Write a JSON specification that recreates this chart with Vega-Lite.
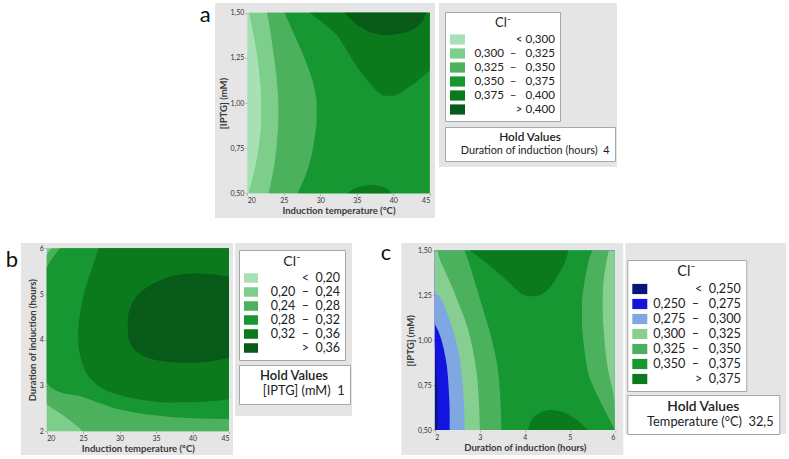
{
  "$schema": "https://vega.github.io/schema/vega-lite/v6.json",
  "background": "white",
  "padding": {"left": 5, "top": 3, "right": 0, "bottom": 0},
  "config": {
    "font": "Lato",
    "view": {"stroke": null},
    "axis": {
      "grid": false, "domain": false, "ticks": true, "tickSize": 2, "tickColor": "#888", "tickWidth": 0.6,
      "labelFontSize": 7, "labelColor": "#333", "labelPadding": 1.5,
      "titleFontSize": 9.5, "titleFontWeight": "bold", "titleColor": "#3a3a3a", "titlePadding": 2
    },
    "legend": {
      "fillColor": "white", "strokeColor": "#a6a6a6", "padding": 5, "cornerRadius": 0,
      "labelColor": "#222", "titleColor": "#222", "titleFontWeight": "normal", "titleAnchor": "middle",
      "symbolStrokeWidth": 0, "symbolOpacity": 1, "rowPadding": 0, "titlePadding": 2,
      "labelLimit": 400, "titleLimit": 400
    }
  },
  "datasets": {
    "letters": [{"p":"a","t":"a"},{"p":"b","t":"b"},{"p":"c","t":"c"}],
    "cont": [
      {"p":"a","l":0,"y":0.5,"x":20,"x2":45},{"p":"a","l":0,"y":1.5,"x":20,"x2":45},
      {"p":"a","l":1,"y":0.5,"x":20.15,"x2":45},{"p":"a","l":1,"y":0.6,"x":20.8,"x2":45},{"p":"a","l":1,"y":0.7,"x":21.35,"x2":45},{"p":"a","l":1,"y":0.8,"x":21.7,"x2":45},{"p":"a","l":1,"y":0.9,"x":21.9,"x2":45},{"p":"a","l":1,"y":1.0,"x":21.9,"x2":45},{"p":"a","l":1,"y":1.1,"x":21.8,"x2":45},{"p":"a","l":1,"y":1.2,"x":21.55,"x2":45},{"p":"a","l":1,"y":1.3,"x":21.2,"x2":45},{"p":"a","l":1,"y":1.4,"x":20.75,"x2":45},{"p":"a","l":1,"y":1.5,"x":20.25,"x2":45},
      {"p":"a","l":2,"y":0.5,"x":22.9,"x2":45},{"p":"a","l":2,"y":0.6,"x":23.45,"x2":45},{"p":"a","l":2,"y":0.7,"x":23.85,"x2":45},{"p":"a","l":2,"y":0.8,"x":24.1,"x2":45},{"p":"a","l":2,"y":0.9,"x":24.25,"x2":45},{"p":"a","l":2,"y":1.0,"x":24.25,"x2":45},{"p":"a","l":2,"y":1.1,"x":24.1,"x2":45},{"p":"a","l":2,"y":1.2,"x":23.85,"x2":45},{"p":"a","l":2,"y":1.3,"x":23.5,"x2":45},{"p":"a","l":2,"y":1.4,"x":23.15,"x2":45},{"p":"a","l":2,"y":1.5,"x":22.7,"x2":45},
      {"p":"a","l":3,"y":0.5,"x":26.9,"x2":45},{"p":"a","l":3,"y":0.6,"x":28.0,"x2":45},{"p":"a","l":3,"y":0.7,"x":28.75,"x2":45},{"p":"a","l":3,"y":0.8,"x":29.2,"x2":45},{"p":"a","l":3,"y":0.9,"x":29.5,"x2":45},{"p":"a","l":3,"y":1.0,"x":29.5,"x2":45},{"p":"a","l":3,"y":1.1,"x":29.1,"x2":45},{"p":"a","l":3,"y":1.2,"x":28.3,"x2":45},{"p":"a","l":3,"y":1.3,"x":27.3,"x2":45},{"p":"a","l":3,"y":1.4,"x":26.2,"x2":45},{"p":"a","l":3,"y":1.5,"x":25.1,"x2":45},
      {"p":"a","l":4,"part":"top","x":28.55,"y":1.5,"y2":1.5},{"p":"a","l":4,"part":"top","x":30,"y":1.455,"y2":1.5},{"p":"a","l":4,"part":"top","x":31.5,"y":1.405,"y2":1.5},{"p":"a","l":4,"part":"top","x":32.4,"y":1.37,"y2":1.5},{"p":"a","l":4,"part":"top","x":33.5,"y":1.3,"y2":1.5},{"p":"a","l":4,"part":"top","x":34.7,"y":1.22,"y2":1.5},{"p":"a","l":4,"part":"top","x":36,"y":1.15,"y2":1.5},{"p":"a","l":4,"part":"top","x":37,"y":1.1,"y2":1.5},{"p":"a","l":4,"part":"top","x":38,"y":1.06,"y2":1.5},{"p":"a","l":4,"part":"top","x":38.8,"y":1.04,"y2":1.5},{"p":"a","l":4,"part":"top","x":39.8,"y":1.04,"y2":1.5},{"p":"a","l":4,"part":"top","x":40.7,"y":1.05,"y2":1.5},{"p":"a","l":4,"part":"top","x":42,"y":1.085,"y2":1.5},{"p":"a","l":4,"part":"top","x":43,"y":1.11,"y2":1.5},{"p":"a","l":4,"part":"top","x":44,"y":1.145,"y2":1.5},{"p":"a","l":4,"part":"top","x":45,"y":1.18,"y2":1.5},
      {"p":"a","l":4,"part":"bot","x":33.8,"y":0.5,"y2":0.5},{"p":"a","l":4,"part":"bot","x":34.7,"y":0.5,"y2":0.526},{"p":"a","l":4,"part":"bot","x":35.5,"y":0.5,"y2":0.537},{"p":"a","l":4,"part":"bot","x":36.1,"y":0.5,"y2":0.542},{"p":"a","l":4,"part":"bot","x":37,"y":0.5,"y2":0.546},{"p":"a","l":4,"part":"bot","x":37.8,"y":0.5,"y2":0.543},{"p":"a","l":4,"part":"bot","x":38.4,"y":0.5,"y2":0.537},{"p":"a","l":4,"part":"bot","x":39.3,"y":0.5,"y2":0.52},{"p":"a","l":4,"part":"bot","x":39.75,"y":0.5,"y2":0.5},
      {"p":"a","l":5,"x":33.35,"y":1.5,"y2":1.5},{"p":"a","l":5,"x":34,"y":1.47,"y2":1.5},{"p":"a","l":5,"x":34.7,"y":1.445,"y2":1.5},{"p":"a","l":5,"x":36,"y":1.41,"y2":1.5},{"p":"a","l":5,"x":37,"y":1.39,"y2":1.5},{"p":"a","l":5,"x":38,"y":1.38,"y2":1.5},{"p":"a","l":5,"x":38.8,"y":1.375,"y2":1.5},{"p":"a","l":5,"x":40,"y":1.378,"y2":1.5},{"p":"a","l":5,"x":41.6,"y":1.39,"y2":1.5},{"p":"a","l":5,"x":42.8,"y":1.41,"y2":1.5},{"p":"a","l":5,"x":43.6,"y":1.435,"y2":1.5},{"p":"a","l":5,"x":44.1,"y":1.46,"y2":1.5},{"p":"a","l":5,"x":44.5,"y":1.5,"y2":1.5},

      {"p":"b","l":1,"y":2,"x":20,"x2":45},{"p":"b","l":1,"y":6,"x":20,"x2":45},
      {"p":"b","l":2,"x":20,"y":2.59,"y2":5.85},{"p":"b","l":2,"x":20.8,"y":2.5,"y2":6},{"p":"b","l":2,"x":22,"y":2.38,"y2":6},{"p":"b","l":2,"x":23.5,"y":2.2,"y2":6},{"p":"b","l":2,"x":24.3,"y":2.1,"y2":6},{"p":"b","l":2,"x":25,"y":2.0,"y2":6},{"p":"b","l":2,"x":45,"y":2.0,"y2":6},
      {"p":"b","l":3,"x":20,"y":3.06,"y2":5.58},{"p":"b","l":3,"x":20.5,"y":2.97,"y2":5.72},{"p":"b","l":3,"x":21.2,"y":2.9,"y2":5.87},{"p":"b","l":3,"x":21.96,"y":2.85,"y2":6},{"p":"b","l":3,"x":24.5,"y":2.77,"y2":6},{"p":"b","l":3,"x":27,"y":2.63,"y2":6},{"p":"b","l":3,"x":29,"y":2.52,"y2":6},{"p":"b","l":3,"x":31.5,"y":2.43,"y2":6},{"p":"b","l":3,"x":33.6,"y":2.37,"y2":6},{"p":"b","l":3,"x":36,"y":2.33,"y2":6},{"p":"b","l":3,"x":38.2,"y":2.3,"y2":6},{"p":"b","l":3,"x":41,"y":2.28,"y2":6},{"p":"b","l":3,"x":45,"y":2.27,"y2":6},
      {"p":"b","l":4,"x":24.3,"y":4.1,"y2":4.1},{"p":"b","l":4,"x":24.35,"y":3.9,"y2":4.3},{"p":"b","l":4,"x":24.5,"y":3.72,"y2":4.5},{"p":"b","l":4,"x":24.8,"y":3.52,"y2":4.78},{"p":"b","l":4,"x":25.3,"y":3.32,"y2":5.12},{"p":"b","l":4,"x":26.2,"y":3.12,"y2":5.55},{"p":"b","l":4,"x":26.8,"y":3.03,"y2":5.85},{"p":"b","l":4,"x":27.2,"y":2.98,"y2":6},{"p":"b","l":4,"x":29,"y":2.84,"y2":6},{"p":"b","l":4,"x":31,"y":2.75,"y2":6},{"p":"b","l":4,"x":34,"y":2.67,"y2":6},{"p":"b","l":4,"x":37,"y":2.63,"y2":6},{"p":"b","l":4,"x":41,"y":2.64,"y2":6},{"p":"b","l":4,"x":45,"y":2.7,"y2":6},
      {"p":"b","l":5,"x":31.1,"y":4.3,"y2":4.3},{"p":"b","l":5,"x":31.2,"y":4.05,"y2":4.55},{"p":"b","l":5,"x":31.6,"y":3.88,"y2":4.75},{"p":"b","l":5,"x":32.5,"y":3.72,"y2":4.98},{"p":"b","l":5,"x":34,"y":3.6,"y2":5.17},{"p":"b","l":5,"x":36,"y":3.53,"y2":5.33},{"p":"b","l":5,"x":38,"y":3.5,"y2":5.42},{"p":"b","l":5,"x":40,"y":3.5,"y2":5.45},{"p":"b","l":5,"x":42,"y":3.52,"y2":5.44},{"p":"b","l":5,"x":45,"y":3.6,"y2":5.38},

      {"p":"c","l":0,"y":0.5,"x":2,"x2":6},{"p":"c","l":0,"y":1.5,"x":2,"x2":6},
      {"p":"c","l":1,"y":0.5,"x":2.06,"x2":6},{"p":"c","l":1,"y":0.6,"x":2.06,"x2":6},{"p":"c","l":1,"y":0.7,"x":2.055,"x2":6},{"p":"c","l":1,"y":0.8,"x":2.04,"x2":6},{"p":"c","l":1,"y":0.9,"x":2.02,"x2":6},{"p":"c","l":1,"y":0.97,"x":2.0,"x2":6},{"p":"c","l":1,"y":1.5,"x":2.0,"x2":6},
      {"p":"c","l":2,"y":0.5,"x":2.33,"x2":6},{"p":"c","l":2,"y":0.6,"x":2.33,"x2":6},{"p":"c","l":2,"y":0.7,"x":2.315,"x2":6},{"p":"c","l":2,"y":0.8,"x":2.29,"x2":6},{"p":"c","l":2,"y":0.87,"x":2.26,"x2":6},{"p":"c","l":2,"y":0.95,"x":2.2,"x2":6},{"p":"c","l":2,"y":1.0,"x":2.15,"x2":6},{"p":"c","l":2,"y":1.05,"x":2.08,"x2":6},{"p":"c","l":2,"y":1.1,"x":2.0,"x2":6},{"p":"c","l":2,"y":1.5,"x":2.0,"x2":6},
      {"p":"c","l":3,"y":0.5,"x":2.665,"x2":6},{"p":"c","l":3,"y":0.6,"x":2.655,"x2":6},{"p":"c","l":3,"y":0.7,"x":2.635,"x2":6},{"p":"c","l":3,"y":0.8,"x":2.6,"x2":6},{"p":"c","l":3,"y":0.9,"x":2.55,"x2":6},{"p":"c","l":3,"y":1.0,"x":2.47,"x2":6},{"p":"c","l":3,"y":1.1,"x":2.35,"x2":6},{"p":"c","l":3,"y":1.184,"x":2.22,"x2":6},{"p":"c","l":3,"y":1.24,"x":2.12,"x2":6},{"p":"c","l":3,"y":1.277,"x":2.0,"x2":6},{"p":"c","l":3,"y":1.5,"x":2.0,"x2":6},
      {"p":"c","l":4,"y":0.5,"x":3.0,"x2":6},{"p":"c","l":4,"y":0.6,"x":2.99,"x2":6},{"p":"c","l":4,"y":0.7,"x":2.97,"x2":5.97},{"p":"c","l":4,"y":0.8,"x":2.94,"x2":5.88},{"p":"c","l":4,"y":0.9,"x":2.88,"x2":5.81},{"p":"c","l":4,"y":1.0,"x":2.8,"x2":5.77},{"p":"c","l":4,"y":1.1,"x":2.69,"x2":5.74},{"p":"c","l":4,"y":1.2,"x":2.54,"x2":5.73},{"p":"c","l":4,"y":1.3,"x":2.38,"x2":5.74},{"p":"c","l":4,"y":1.4,"x":2.2,"x2":5.79},{"p":"c","l":4,"y":1.46,"x":2.1,"x2":5.83},{"p":"c","l":4,"y":1.5,"x":2.06,"x2":5.87},
      {"p":"c","l":5,"y":0.5,"x":3.48,"x2":6},{"p":"c","l":5,"y":0.6,"x":3.47,"x2":5.8},{"p":"c","l":5,"y":0.7,"x":3.45,"x2":5.6},{"p":"c","l":5,"y":0.8,"x":3.42,"x2":5.43},{"p":"c","l":5,"y":0.9,"x":3.36,"x2":5.35},{"p":"c","l":5,"y":1.0,"x":3.27,"x2":5.3},{"p":"c","l":5,"y":1.1,"x":3.16,"x2":5.27},{"p":"c","l":5,"y":1.2,"x":3.04,"x2":5.27},{"p":"c","l":5,"y":1.3,"x":2.92,"x2":5.31},{"p":"c","l":5,"y":1.4,"x":2.8,"x2":5.38},{"p":"c","l":5,"y":1.46,"x":2.72,"x2":5.44},{"p":"c","l":5,"y":1.5,"x":2.66,"x2":5.5},
      {"p":"c","l":6,"part":"top","x":2.78,"y":1.5,"y2":1.5},{"p":"c","l":6,"part":"top","x":3.0,"y":1.46,"y2":1.5},{"p":"c","l":6,"part":"top","x":3.2,"y":1.42,"y2":1.5},{"p":"c","l":6,"part":"top","x":3.44,"y":1.37,"y2":1.5},{"p":"c","l":6,"part":"top","x":3.7,"y":1.31,"y2":1.5},{"p":"c","l":6,"part":"top","x":3.9,"y":1.265,"y2":1.5},{"p":"c","l":6,"part":"top","x":4.1,"y":1.245,"y2":1.5},{"p":"c","l":6,"part":"top","x":4.3,"y":1.25,"y2":1.5},{"p":"c","l":6,"part":"top","x":4.5,"y":1.28,"y2":1.5},{"p":"c","l":6,"part":"top","x":4.65,"y":1.325,"y2":1.5},{"p":"c","l":6,"part":"top","x":4.8,"y":1.39,"y2":1.5},{"p":"c","l":6,"part":"top","x":4.9,"y":1.44,"y2":1.5},{"p":"c","l":6,"part":"top","x":4.97,"y":1.5,"y2":1.5},
      {"p":"c","l":6,"part":"bot","x":4.06,"y":0.5,"y2":0.5},{"p":"c","l":6,"part":"bot","x":4.15,"y":0.5,"y2":0.555},{"p":"c","l":6,"part":"bot","x":4.3,"y":0.5,"y2":0.59},{"p":"c","l":6,"part":"bot","x":4.58,"y":0.5,"y2":0.612},{"p":"c","l":6,"part":"bot","x":4.85,"y":0.5,"y2":0.6},{"p":"c","l":6,"part":"bot","x":5.1,"y":0.5,"y2":0.565},{"p":"c","l":6,"part":"bot","x":5.3,"y":0.5,"y2":0.525},{"p":"c","l":6,"part":"bot","x":5.4,"y":0.5,"y2":0.5}
    ],
    "key": [
      {"p":"a","cls":"<\u00a00,300"},{"p":"a","cls":"0,300\u00a0\u00a0\u2013\u00a0\u00a0\u00a00,325"},{"p":"a","cls":"0,325\u00a0\u00a0\u2013\u00a0\u00a0\u00a00,350"},{"p":"a","cls":"0,350\u00a0\u00a0\u2013\u00a0\u00a0\u00a00,375"},{"p":"a","cls":"0,375\u00a0\u00a0\u2013\u00a0\u00a0\u00a00,400"},{"p":"a","cls":">\u00a00,400"},
      {"p":"b","cls":"<\u00a0\u00a00,20"},{"p":"b","cls":"0,20\u00a0\u00a0\u2013\u00a0\u00a00,24"},{"p":"b","cls":"0,24\u00a0\u00a0\u2013\u00a0\u00a00,28"},{"p":"b","cls":"0,28\u00a0\u00a0\u2013\u00a0\u00a00,32"},{"p":"b","cls":"0,32\u00a0\u00a0\u2013\u00a0\u00a00,36"},{"p":"b","cls":">\u00a0\u00a00,36"},
      {"p":"c","cls":"<\u00a0\u00a00,250"},{"p":"c","cls":"0,250\u00a0\u00a0\u2013\u00a0\u00a0\u00a00,275"},{"p":"c","cls":"0,275\u00a0\u00a0\u2013\u00a0\u00a0\u00a00,300"},{"p":"c","cls":"0,300\u00a0\u00a0\u2013\u00a0\u00a0\u00a00,325"},{"p":"c","cls":"0,325\u00a0\u00a0\u2013\u00a0\u00a0\u00a00,350"},{"p":"c","cls":"0,350\u00a0\u00a0\u2013\u00a0\u00a0\u00a00,375"},{"p":"c","cls":">\u00a0\u00a00,375"}
    ],
    "hold": [
      {"p":"a","cond":"Duration of induction (hours)\u00a0\u00a04"},
      {"p":"b","cond":"[IPTG] (mM)\u00a0\u00a01"},
      {"p":"c","cond":"Temperature (\u00b0C)\u00a0\u00a032,5"}
    ]
  },
  "resolve": {"scale": {"color": "independent", "shape": "independent"}, "legend": {"color": "independent", "shape": "independent"}},
  "spacing": 24,
  "vconcat": [
    {
      "spacing": 4,
      "resolve": {"scale": {"color": "independent", "shape": "independent"}, "legend": {"color": "independent", "shape": "independent"}},
      "hconcat": [
        {"width": 190, "height": 10, "data": {"values": [{}]}, "mark": {"type": "point", "opacity": 0}},
        {"width": 10.6, "height": 24, "data": {"name": "letters"}, "transform": [{"filter": "datum.p == 'a'"}], "mark": {"type": "text", "fontSize": 22, "font": "Lato", "color": "#111"}, "encoding": {"text": {"field": "t"}}},
        {
          "width": 220, "height": 215,
          "view": {"fill": "#e5e5e5", "stroke": null},
          "data": {"name": "cont"},
          "transform": [{"filter": "datum.p == 'a'"}],
          "encoding": {
            "x": {"field": "x", "type": "quantitative", "scale": {"domain": [20, 45], "range": [32.3, 214.7], "nice": false, "zero": false}, "axis": {"title": "Induction temperature (\u00b0C)", "values": [20, 25, 30, 35, 40, 45], "offset": -24.7}},
            "y": {"field": "y", "type": "quantitative", "scale": {"domain": [0.5, 1.5], "range": [190.3, 9.7], "nice": false, "zero": false}, "axis": {"title": "[IPTG] (mM)", "values": [0.5, 0.75, 1, 1.25, 1.5], "labelExpr": "replace(format(datum.value, '.2f'), '.', ',')", "offset": -32.3}},
            "color": {"field": "l", "type": "ordinal", "scale": {"domain": [0, 1, 2, 3, 4, 5], "range": ["#a6e1b6", "#7dcd8b", "#4cb15c", "#179732", "#0b7a1d", "#075a17"]}, "legend": null},
            "detail": {"field": "part"}
          },
          "layer": [
            {"transform": [{"filter": "datum.l == 0"}], "mark": {"type": "area", "orient": "horizontal", "interpolate": "monotone"}, "encoding": {"x2": {"field": "x2"}}},
            {"transform": [{"filter": "datum.l == 1"}], "mark": {"type": "area", "orient": "horizontal", "interpolate": "monotone"}, "encoding": {"x2": {"field": "x2"}}},
            {"transform": [{"filter": "datum.l == 2"}], "mark": {"type": "area", "orient": "horizontal", "interpolate": "monotone"}, "encoding": {"x2": {"field": "x2"}}},
            {"transform": [{"filter": "datum.l == 3"}], "mark": {"type": "area", "orient": "horizontal", "interpolate": "monotone"}, "encoding": {"x2": {"field": "x2"}}},
            {"transform": [{"filter": "datum.l == 4"}], "mark": {"type": "area", "orient": "vertical", "interpolate": "monotone"}, "encoding": {"y2": {"field": "y2"}}},
            {"transform": [{"filter": "datum.l == 5"}], "mark": {"type": "area", "orient": "vertical", "interpolate": "monotone"}, "encoding": {"y2": {"field": "y2"}}}
          ]
        },
        {
          "width": 178, "height": 164,
          "view": {"fill": "#e5e5e5", "stroke": null},
          "layer": [
            {
              "data": {"name": "key"}, "transform": [{"filter": "datum.p == 'a'"}],
              "mark": {"type": "square", "opacity": 0},
              "encoding": {"color": {"field": "cls", "type": "nominal", "sort": null, "scale": {"range": ["#a6e1b6", "#7dcd8b", "#4cb15c", "#179732", "#0b7a1d", "#075a17"]},
                "legend": {"orient": "none", "legendX": 6, "legendY": 9, "title": "Cl\u207b", "titleFontSize": 13, "labelFontSize": 11.6, "labelAlign": "right", "labelOffset": 90, "symbolType": "M-1,-0.68H1V0.68H-1Z", "symbolSize": 225, "symbolOpacity": 1, "padding": 5}}}
            },
            {
              "data": {"name": "hold"}, "transform": [{"filter": "datum.p == 'a'"}],
              "mark": {"type": "point", "opacity": 0},
              "encoding": {"shape": {"field": "cond", "type": "nominal",
                "legend": {"orient": "none", "legendX": 6, "legendY": 124, "title": "Hold Values", "titleFontSize": 11.8, "titleFontWeight": 600, "labelFontSize": 10.8, "symbolSize": 0, "symbolOpacity": 0, "labelOffset": 0}}}
            }
          ]
        }
      ]
    },
    {
      "spacing": 21.3,
      "resolve": {"scale": {"color": "independent", "shape": "independent"}, "legend": {"color": "independent", "shape": "independent"}},
      "hconcat": [
        {
          "spacing": 2,
          "resolve": {"scale": {"color": "independent", "shape": "independent"}, "legend": {"color": "independent", "shape": "independent"}},
          "hconcat": [
            {"width": 14, "height": 34, "data": {"name": "letters"}, "transform": [{"filter": "datum.p == 'b'"}], "mark": {"type": "text", "fontSize": 22, "font": "Lato", "color": "#111"}, "encoding": {"text": {"field": "t"}}},
            {
              "width": 212, "height": 212,
              "view": {"fill": "#e5e5e5", "stroke": null},
              "data": {"name": "cont"},
              "transform": [{"filter": "datum.p == 'b'"}],
              "encoding": {
                "x": {"field": "x", "type": "quantitative", "scale": {"domain": [20, 45], "range": [25.7, 208], "nice": false, "zero": false}, "axis": {"title": "Induction temperature (\u00b0C)", "values": [20, 25, 30, 35, 40, 45], "offset": -23.7}},
                "y": {"field": "y", "type": "quantitative", "scale": {"domain": [2, 6], "range": [188.3, 5.3], "nice": false, "zero": false}, "axis": {"title": "Duration of induction (hours)", "values": [2, 3, 4, 5, 6], "offset": -25.7}},
                "color": {"field": "l", "type": "ordinal", "scale": {"domain": [0, 1, 2, 3, 4, 5], "range": ["#a6e1b6", "#7dcd8b", "#4cb15c", "#179732", "#0b7a1d", "#075a17"]}, "legend": null},
                "detail": {"field": "part"}
              },
              "layer": [
                {"transform": [{"filter": "datum.l == 1"}], "mark": {"type": "area", "orient": "horizontal", "interpolate": "monotone"}, "encoding": {"x2": {"field": "x2"}}},
                {"transform": [{"filter": "datum.l == 2"}], "mark": {"type": "area", "orient": "vertical", "interpolate": "monotone"}, "encoding": {"y2": {"field": "y2"}}},
                {"transform": [{"filter": "datum.l == 3"}], "mark": {"type": "area", "orient": "vertical", "interpolate": "monotone"}, "encoding": {"y2": {"field": "y2"}}},
                {"transform": [{"filter": "datum.l == 4"}], "mark": {"type": "area", "orient": "vertical", "interpolate": "monotone"}, "encoding": {"y2": {"field": "y2"}}},
                {"transform": [{"filter": "datum.l == 5"}], "mark": {"type": "area", "orient": "vertical", "interpolate": "monotone"}, "encoding": {"y2": {"field": "y2"}}}
              ]
            },
            {
              "width": 117, "height": 173,
              "view": {"fill": "#e5e5e5", "stroke": null},
              "layer": [
                {
                  "data": {"name": "key"}, "transform": [{"filter": "datum.p == 'b'"}],
                  "mark": {"type": "square", "opacity": 0},
                  "encoding": {"color": {"field": "cls", "type": "nominal", "sort": null, "scale": {"range": ["#a6e1b6", "#7dcd8b", "#4cb15c", "#179732", "#0b7a1d", "#075a17"]},
                    "legend": {"orient": "none", "legendX": 4, "legendY": 7, "title": "Cl\u207b", "titleFontSize": 14, "labelFontSize": 12.5, "labelAlign": "right", "labelOffset": 82, "symbolType": "M-1,-0.68H1V0.68H-1Z", "symbolSize": 196, "symbolOpacity": 1}}}
                },
                {
                  "data": {"name": "hold"}, "transform": [{"filter": "datum.p == 'b'"}],
                  "mark": {"type": "point", "opacity": 0},
                  "encoding": {"shape": {"field": "cond", "type": "nominal",
                    "legend": {"orient": "none", "legendX": 4, "legendY": 122, "title": "Hold Values", "titleFontSize": 13, "titleFontWeight": 600, "labelFontSize": 12.8, "symbolSize": 0, "symbolOpacity": 0, "labelOffset": 6}}}
                }
              ]
            }
          ]
        },
        {
          "spacing": 2,
          "resolve": {"scale": {"color": "independent", "shape": "independent"}, "legend": {"color": "independent", "shape": "independent"}},
          "hconcat": [
            {"width": 25.4, "height": 20, "data": {"name": "letters"}, "transform": [{"filter": "datum.p == 'c'"}], "mark": {"type": "text", "fontSize": 22, "font": "Lato", "color": "#111"}, "encoding": {"text": {"field": "t"}}},
            {
              "width": 222, "height": 212,
              "view": {"fill": "#e5e5e5", "stroke": null},
              "data": {"name": "cont"},
              "transform": [{"filter": "datum.p == 'c'"}],
              "encoding": {
                "x": {"field": "x", "type": "quantitative", "scale": {"domain": [2, 6], "range": [33.5, 213.5], "nice": false, "zero": false}, "axis": {"title": "Duration of induction (hours)", "values": [2, 3, 4, 5, 6], "offset": -25}},
                "y": {"field": "y", "type": "quantitative", "scale": {"domain": [0.5, 1.5], "range": [187, 7.6], "nice": false, "zero": false}, "axis": {"title": "[IPTG] (mM)", "values": [0.5, 0.75, 1, 1.25, 1.5], "labelExpr": "replace(format(datum.value, '.2f'), '.', ',')", "offset": -33.5}},
                "color": {"field": "l", "type": "ordinal", "scale": {"domain": [0, 1, 2, 3, 4, 5, 6], "range": ["#0b1478", "#1414e0", "#7fa7e2", "#86cf91", "#4cb15c", "#179732", "#0b7a1d"]}, "legend": null},
                "detail": {"field": "part"}
              },
              "layer": [
                {"transform": [{"filter": "datum.l == 0"}], "mark": {"type": "area", "orient": "horizontal", "interpolate": "monotone"}, "encoding": {"x2": {"field": "x2"}}},
                {"transform": [{"filter": "datum.l == 1"}], "mark": {"type": "area", "orient": "horizontal", "interpolate": "monotone"}, "encoding": {"x2": {"field": "x2"}}},
                {"transform": [{"filter": "datum.l == 2"}], "mark": {"type": "area", "orient": "horizontal", "interpolate": "monotone"}, "encoding": {"x2": {"field": "x2"}}},
                {"transform": [{"filter": "datum.l == 3"}], "mark": {"type": "area", "orient": "horizontal", "interpolate": "monotone"}, "encoding": {"x2": {"field": "x2"}}},
                {"transform": [{"filter": "datum.l == 4"}], "mark": {"type": "area", "orient": "horizontal", "interpolate": "monotone"}, "encoding": {"x2": {"field": "x2"}}},
                {"transform": [{"filter": "datum.l == 5"}], "mark": {"type": "area", "orient": "horizontal", "interpolate": "monotone"}, "encoding": {"x2": {"field": "x2"}}},
                {"transform": [{"filter": "datum.l == 6"}], "mark": {"type": "area", "orient": "vertical", "interpolate": "monotone"}, "encoding": {"y2": {"field": "y2"}}}
              ]
            },
            {
              "width": 161, "height": 191,
              "view": {"fill": "#e5e5e5", "stroke": null},
              "layer": [
                {
                  "data": {"name": "key"}, "transform": [{"filter": "datum.p == 'c'"}],
                  "mark": {"type": "square", "opacity": 0},
                  "encoding": {"color": {"field": "cls", "type": "nominal", "sort": null, "scale": {"range": ["#0b1478", "#1414e0", "#7fa7e2", "#86cf91", "#4cb15c", "#179732", "#0b7a1d"]},
                    "legend": {"orient": "none", "legendX": 2, "legendY": 17, "title": "\u00a0\u00a0\u00a0\u00a0\u00a0\u00a0\u00a0\u00a0\u00a0\u00a0\u00a0\u00a0\u00a0\u00a0\u00a0\u00a0\u00a0\u00a0\u00a0\u00a0\u00a0Cl\u207b\u00a0\u00a0\u00a0\u00a0\u00a0\u00a0\u00a0\u00a0\u00a0\u00a0\u00a0\u00a0\u00a0\u00a0\u00a0\u00a0\u00a0\u00a0\u00a0\u00a0\u00a0", "titleFontSize": 14.5, "labelFontSize": 12.6, "labelAlign": "right", "labelOffset": 93.5, "symbolType": "M-1,-0.68H1V0.68H-1Z", "symbolSize": 225, "symbolOpacity": 1}}}
                },
                {
                  "data": {"name": "hold"}, "transform": [{"filter": "datum.p == 'c'"}],
                  "mark": {"type": "point", "opacity": 0},
                  "encoding": {"shape": {"field": "cond", "type": "nominal",
                    "legend": {"orient": "none", "legendX": 2, "legendY": 152, "title": "Hold Values", "titleFontSize": 13.8, "titleFontWeight": 600, "labelFontSize": 12.8, "symbolSize": 0, "symbolOpacity": 0, "labelOffset": 2}}}
                }
              ]
            }
          ]
        }
      ]
    }
  ]
}
